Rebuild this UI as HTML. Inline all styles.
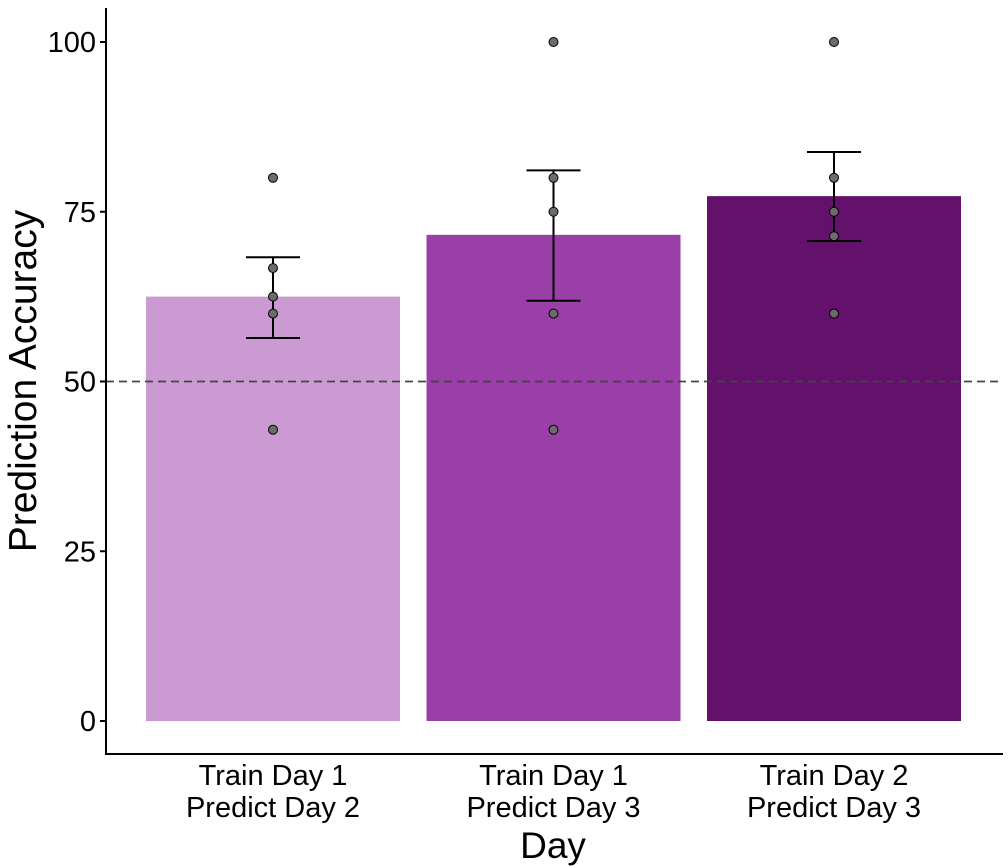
<!DOCTYPE html>
<html><head><meta charset="utf-8"><style>
body{margin:0;background:#fff;}
svg{display:block;font-family:"Liberation Sans",Arial,sans-serif;}
</style></head><body>
<svg id="chart" width="1008" height="866">
<g id="plot"></g>
</svg>
<script>
const categories=["Train Day 1|Predict Day 2","Train Day 1|Predict Day 3","Train Day 2|Predict Day 3"];
const means=[62.5,71.6,77.3];
const errLow=[56.4,61.9,70.7];
const errHigh=[68.3,81.1,83.8];
const points=[[80,66.7,62.5,60,42.9],[100,80,75,60,42.9],[100,80,75,71.4,60]];
const colors=["#cb9ad2","#9a3ea8","#63116b"];
const yTicks=[0,25,50,75,100];
const chance=50;

const NS="http://www.w3.org/2000/svg";
const g=document.getElementById('plot');
function el(t,a,p){const e=document.createElementNS(NS,t);for(const k in a)e.setAttribute(k,a[k]);(p||g).appendChild(e);return e;}
const y=v=>721-v*6.79;
const step=280.5;
const x=i=>273+i*step;
const bw=254;

categories.forEach((c,i)=>{
  const r=el('rect',{x:x(i)-bw/2,y:y(means[i]),width:bw,height:y(0)-y(means[i]),fill:colors[i]});
  
  
});
const dl=el('line',{x1:106,x2:1003,y1:y(chance),y2:y(chance),stroke:'#444','stroke-width':1.8,'stroke-dasharray':'8,5'});


categories.forEach((c,i)=>{
  const eg=el('g',{stroke:'#000','stroke-width':2});
  
  
  el('line',{x1:x(i),x2:x(i),y1:y(errLow[i]),y2:y(errHigh[i])},eg);
  el('line',{x1:x(i)-27,x2:x(i)+27,y1:y(errLow[i]),y2:y(errLow[i])},eg);
  el('line',{x1:x(i)-27,x2:x(i)+27,y1:y(errHigh[i]),y2:y(errHigh[i])},eg);
  points[i].forEach(v=>{
    const p=el('circle',{cx:x(i),cy:y(v),r:4.5,fill:'#6b6b6b',stroke:'#000','stroke-width':1});
    
    
  });
  const lines=c.split('|');
  const t=el('text',{x:x(i),y:785,'text-anchor':'middle','font-size':29,fill:'#000'});
  
  
  lines.forEach((l,k)=>{const s=el('tspan',{x:x(i),dy:k?32:0},t);s.textContent=l;});
});
const ax=el('path',{d:'M106,8 V754 H1003',fill:'none',stroke:'#000','stroke-width':2});


yTicks.forEach(v=>{
  el('line',{x1:100,x2:106,y1:y(v),y2:y(v),stroke:'#000','stroke-width':2});
  const t=el('text',{x:96,y:y(v)+10,'text-anchor':'end','font-size':29,fill:'#000'});
  t.textContent=v;
  
  
});
const yt=el('text',{x:0,y:0,transform:'translate(36,381) rotate(-90)','text-anchor':'middle','font-size':39,fill:'#000'});
yt.textContent='Prediction Accuracy';


const xt=el('text',{x:553,y:858,'text-anchor':'middle','font-size':37,fill:'#000'});
xt.textContent='Day';


</script>
</body></html>
